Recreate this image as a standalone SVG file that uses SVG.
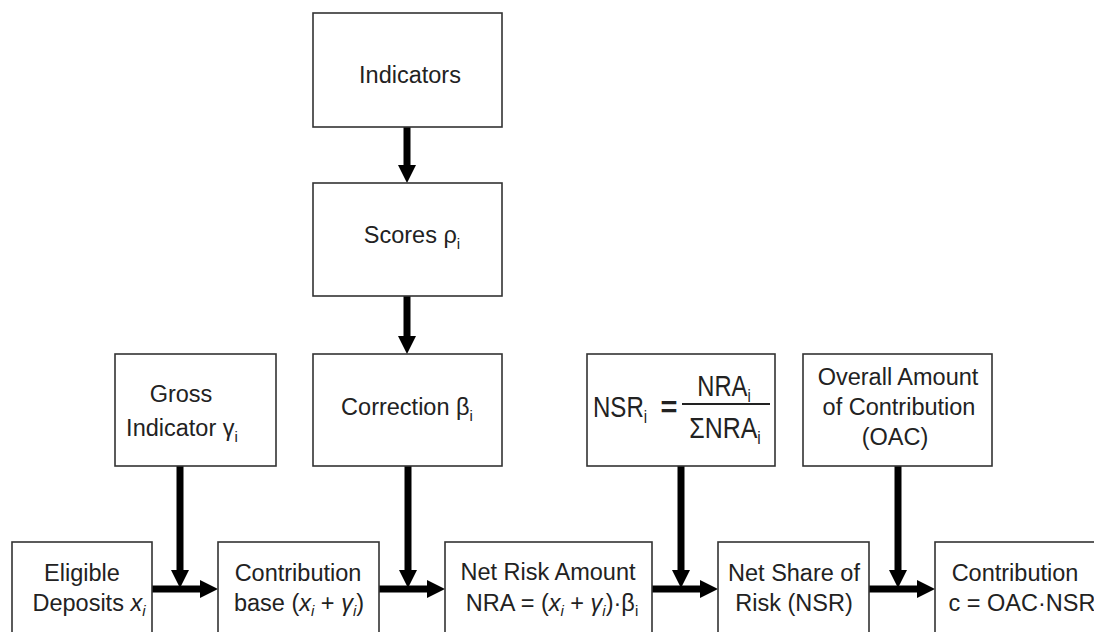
<svg xmlns="http://www.w3.org/2000/svg" width="1094" height="632" viewBox="0 0 1094 632">
<style>
.box{fill:#fff;stroke:#333;stroke-width:1.6}
.t{font-family:"Liberation Sans",Arial,sans-serif;font-size:23.5px;fill:#222;text-anchor:middle}
.f{font-family:"Liberation Sans",Arial,sans-serif;fill:#222;font-size:29px}
.arr{stroke:#000;stroke-width:7;fill:none;marker-end:url(#ah)}
.it{font-style:italic}
</style>
<defs>
<marker id="ah" markerUnits="userSpaceOnUse" markerWidth="20" markerHeight="20" refX="2" refY="9" orient="auto">
<path d="M0,0 L18,9 L0,18 z" fill="#000"/>
</marker>
</defs>
<rect width="1094" height="632" fill="#fff"/>

<g id="connectors">
<line class="arr" x1="407" y1="127" x2="407" y2="167"/>
<line class="arr" x1="407" y1="296" x2="407" y2="338"/>
<line class="arr" x1="180" y1="466" x2="180" y2="572"/>
<line class="arr" x1="408" y1="466" x2="408" y2="572"/>
<line class="arr" x1="681" y1="466" x2="681" y2="572"/>
<line class="arr" x1="898" y1="466" x2="898" y2="572"/>
<line class="arr" x1="152" y1="589" x2="202" y2="589"/>
<line class="arr" x1="379" y1="589" x2="429" y2="589"/>
<line class="arr" x1="652" y1="589" x2="702" y2="589"/>
<line class="arr" x1="869" y1="589" x2="919" y2="589"/>
</g>

<g id="indicators">
<rect class="box" x="313" y="13" width="189" height="114"/>
<text class="t" x="410" y="83">Indicators</text>
</g>

<g id="scores">
<rect class="box" x="313" y="183" width="189" height="113"/>
<text class="t" x="412" y="243">Scores ρ<tspan font-size="15" dy="6">i</tspan></text>
</g>

<g id="gross">
<rect class="box" x="115" y="354" width="161" height="112"/>
<text class="t" x="181" y="402">Gross</text>
<text class="t" x="182" y="436">Indicator γ<tspan font-size="15" dy="6">i</tspan></text>
</g>

<g id="correction">
<rect class="box" x="313" y="354" width="189" height="112"/>
<text class="t" x="407" y="415">Correction β<tspan font-size="15" dy="6">i</tspan></text>
</g>

<g id="nsr-formula">
<rect class="box" x="587" y="354" width="188" height="112"/>
<text class="f" transform="translate(593,417) scale(0.83,1)">NSR<tspan font-size="18" dy="6">i</tspan></text>
<text class="f" x="669" y="417" font-size="28" font-weight="bold" text-anchor="middle">=</text>
<line x1="682" y1="404" x2="770" y2="404" stroke="#222" stroke-width="2"/>
<text class="f" transform="translate(724,396) scale(0.82,1)" text-anchor="middle">NRA<tspan font-size="18" dy="6">i</tspan></text>
<text class="f" transform="translate(725,438) scale(0.86,1)" text-anchor="middle">ΣNRA<tspan font-size="18" dy="6">i</tspan></text>
</g>

<g id="oac">
<rect class="box" x="803" y="354" width="189" height="112"/>
<text class="t" x="898" y="385">Overall Amount</text>
<text class="t" x="899" y="415">of Contribution</text>
<text class="t" x="895" y="445">(OAC)</text>
</g>

<g id="eligible">
<rect class="box" x="12" y="542" width="140" height="100"/>
<text class="t" x="82" y="581">Eligible</text>
<text class="t" x="89" y="611">Deposits <tspan class="it">x</tspan><tspan class="it" font-size="15" dy="5">i</tspan></text>
</g>

<g id="contribution-base">
<rect class="box" x="218" y="542" width="161" height="100"/>
<text class="t" x="298" y="581">Contribution</text>
<text class="t" x="299" y="611">base (<tspan class="it">x</tspan><tspan class="it" font-size="15" dy="5">i</tspan><tspan dy="-5"> + </tspan><tspan class="it">γ</tspan><tspan class="it" font-size="15" dy="5">i</tspan><tspan dy="-5">)</tspan></text>
</g>

<g id="nra">
<rect class="box" x="445" y="542" width="207" height="100"/>
<text class="t" x="548" y="580">Net Risk Amount</text>
<text class="t" x="552" y="611">NRA = (<tspan class="it">x</tspan><tspan class="it" font-size="15" dy="5">i</tspan><tspan dy="-5"> +  </tspan><tspan class="it">γ</tspan><tspan class="it" font-size="15" dy="5">i</tspan><tspan dy="-5">)·β</tspan><tspan font-size="15" dy="5">i</tspan></text>
</g>

<g id="net-share">
<rect class="box" x="718" y="542" width="151" height="100"/>
<text class="t" x="794" y="581">Net Share of</text>
<text class="t" x="794" y="611">Risk (NSR)</text>
</g>

<g id="contribution">
<rect class="box" x="935" y="542" width="165" height="100"/>
<text class="t" x="1015" y="581">Contribution</text>
<text class="t" x="1022" y="611">c = OAC·NSR</text>
</g>
</svg>
